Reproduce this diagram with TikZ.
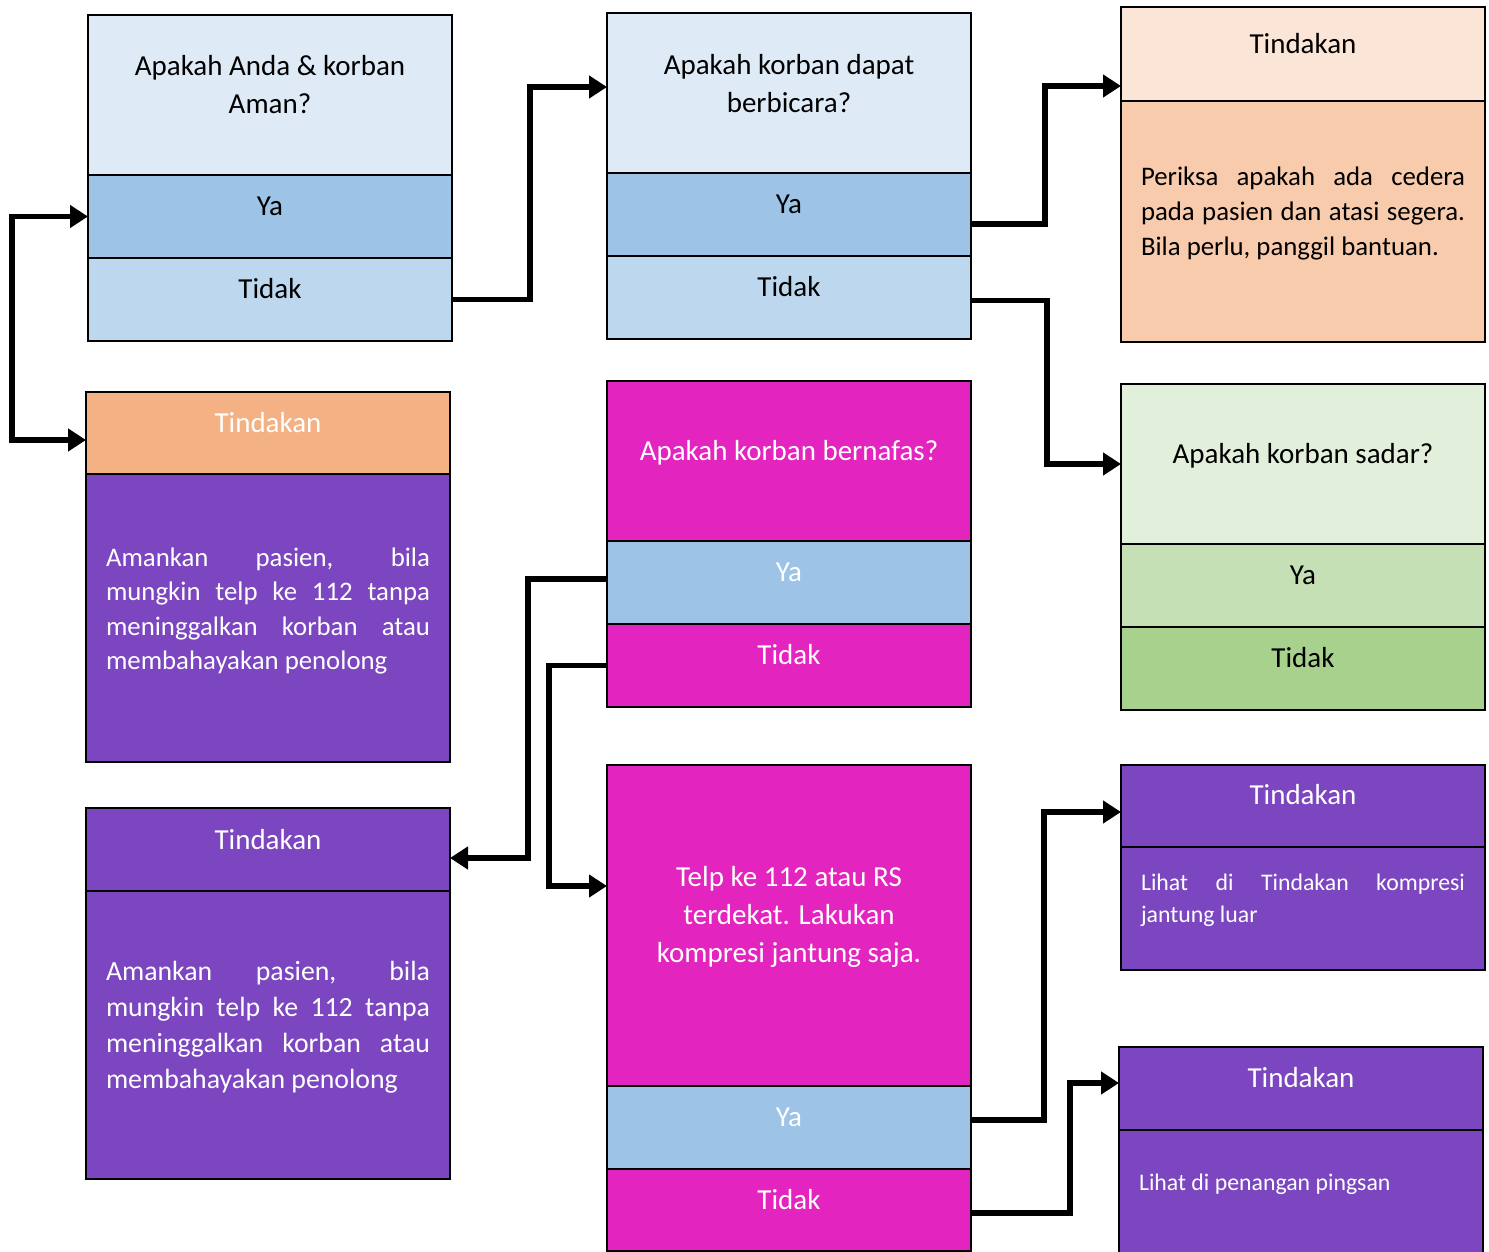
\documentclass[tikz,border=0pt]{standalone}
\usepackage{fontspec}
\setmainfont{Carlito}
\usetikzlibrary{calc}
\usetikzlibrary{positioning}
\usetikzlibrary{arrows.meta}

\definecolor{blueHead}{HTML}{DEEBF7}
\definecolor{blueYa}{HTML}{9DC3E6}
\definecolor{blueNo}{HTML}{BDD7EE}
\definecolor{peachHead}{HTML}{FBE5D6}
\definecolor{peachBody}{HTML}{F8CBAD}
\definecolor{orangeHead}{HTML}{F4B183}
\definecolor{greenHead}{HTML}{E2EFDA}
\definecolor{greenYa}{HTML}{C5E0B4}
\definecolor{greenNo}{HTML}{A9D18E}
\definecolor{boxPurple}{HTML}{7B46BF}
\definecolor{boxMagenta}{HTML}{E424BE}

\tikzset{
  cell/.style={draw, line width=1.4pt, minimum width=182pt, inner sep=0pt, outer sep=0pt, anchor=north west},
  lbl/.style={font=\fontsize{14.5}{19}\selectfont, inner sep=0pt, align=center},
  body/.style={inner sep=0pt, text width=162pt, align=justify},
  conn/.style={line width=2.9pt, -{Triangle[length=9pt, width=11pt]}},
}

\begin{document}
\begin{tikzpicture}[x=0.5pt, y=-0.5pt]
  \useasboundingbox (0,0) rectangle (1489,1252);

  % Apakah Anda & korban aman?
  \node [cell, fill=blueHead, minimum height=80pt] at (88,15) (aHead) {};
  \node [cell, fill=blueYa, minimum height=41.5pt, below=0pt of aHead] (aYa) {};
  \node [cell, fill=blueNo, minimum height=41.5pt, below=0pt of aYa] (aNo) {};
  \node [lbl] at ([yshift=-35pt]aHead.north) (aHeadT) {Apakah Anda \& korban\\Aman?};
  \node [lbl] at ([yshift=-15.5pt]aYa.north) (aYaT) {Ya};
  \node [lbl] at ([yshift=-15.5pt]aNo.north) (aNoT) {Tidak};

  % Apakah korban dapat berbicara?
  \node [cell, fill=blueHead, minimum height=80pt] at (607,13) (bHead) {};
  \node [cell, fill=blueYa, minimum height=41.5pt, below=0pt of bHead] (bYa) {};
  \node [cell, fill=blueNo, minimum height=41.5pt, below=0pt of bYa] (bNo) {};
  \node [lbl] at ([yshift=-35.5pt]bHead.north) (bHeadT) {Apakah korban dapat\\berbicara?};
  \node [lbl] at ([yshift=-15.5pt]bYa.north) (bYaT) {Ya};
  \node [lbl] at ([yshift=-15.5pt]bNo.north) (bNoT) {Tidak};

  % Tindakan: periksa cedera
  \node [cell, fill=peachHead, minimum height=47pt] at (1121,7) (cHead) {};
  \node [cell, fill=peachBody, minimum height=120.5pt, below=0pt of cHead] (cBody) {};
  \node [lbl] at ([yshift=-18.5pt]cHead.north) (cHeadT) {Tindakan};
  \node [body, font=\fontsize{13.4}{17.5}\selectfont] at ([yshift=-56pt]cBody.north) (cBodyT)
    {Periksa apakah ada cedera\linebreak pada pasien dan atasi segera.\linebreak Bila perlu, panggil bantuan.};

  % Tindakan: amankan pasien (atas)
  \node [cell, fill=orangeHead, minimum height=41pt] at (86,392) (dHead) {};
  \node [cell, fill=boxPurple, minimum height=144pt, below=0pt of dHead] (dBody) {};
  \node [lbl, text=white] at ([yshift=-15.5pt]dHead.north) (dHeadT) {Tindakan};
  \node [body, text=white, font=\fontsize{13.4}{17.3}\selectfont] at ([yshift=-68.5pt]dBody.north) (dBodyT)
    {Amankan pasien, bila\linebreak mungkin telp ke 112 tanpa\linebreak meninggalkan korban atau\linebreak membahayakan penolong};

  % Apakah korban bernafas?
  \node [cell, fill=boxMagenta, minimum height=80pt] at (607,381) (eHead) {};
  \node [cell, fill=blueYa, minimum height=41.5pt, below=0pt of eHead] (eYa) {};
  \node [cell, fill=boxMagenta, minimum height=41.5pt, below=0pt of eYa] (eNo) {};
  \node [lbl, text=white] at ([yshift=-36pt]eHead.north) (eHeadT) {Apakah korban bernafas?};
  \node [lbl, text=white] at ([yshift=-15.5pt]eYa.north) (eYaT) {Ya};
  \node [lbl, text=white] at ([yshift=-15.5pt]eNo.north) (eNoT) {Tidak};

  % Apakah korban sadar?
  \node [cell, fill=greenHead, minimum height=80pt] at (1121,384) (fHead) {};
  \node [cell, fill=greenYa, minimum height=41.5pt, below=0pt of fHead] (fYa) {};
  \node [cell, fill=greenNo, minimum height=41.5pt, below=0pt of fYa] (fNo) {};
  \node [lbl] at ([yshift=-36pt]fHead.north) (fHeadT) {Apakah korban sadar?};
  \node [lbl] at ([yshift=-15.5pt]fYa.north) (fYaT) {Ya};
  \node [lbl] at ([yshift=-15.5pt]fNo.north) (fNoT) {Tidak};

  % Tindakan: amankan pasien (bawah)
  \node [cell, fill=boxPurple, minimum height=41.5pt] at (86,808) (gHead) {};
  \node [cell, fill=boxPurple, minimum height=144pt, below=0pt of gHead] (gBody) {};
  \node [lbl, text=white] at ([yshift=-16pt]gHead.north) (gHeadT) {Tindakan};
  \node [body, text=white, font=\fontsize{13.9}{18}\selectfont] at ([yshift=-68pt]gBody.north) (gBodyT)
    {Amankan pasien, bila\linebreak mungkin telp ke 112 tanpa\linebreak meninggalkan korban atau\linebreak membahayakan penolong};

  % Telp ke 112
  \node [cell, fill=boxMagenta, minimum height=160.5pt] at (607,765) (hHead) {};
  \node [cell, fill=blueYa, minimum height=41.5pt, below=0pt of hHead] (hYa) {};
  \node [cell, fill=boxMagenta, minimum height=41pt, below=0pt of hYa] (hNo) {};
  \node [lbl, text=white] at ([yshift=-76pt]hHead.north) (hHeadT) {Telp ke 112 atau RS\\terdekat. Lakukan\\kompresi jantung saja.};
  \node [lbl, text=white] at ([yshift=-15.5pt]hYa.north) (hYaT) {Ya};
  \node [lbl, text=white] at ([yshift=-15.5pt]hNo.north) (hNoT) {Tidak};

  % Tindakan: kompresi jantung luar
  \node [cell, fill=boxPurple, minimum height=41pt] at (1121,765) (iHead) {};
  \node [cell, fill=boxPurple, minimum height=61.5pt, below=0pt of iHead] (iBody) {};
  \node [lbl, text=white] at ([yshift=-15pt]iHead.north) (iHeadT) {Tindakan};
  \node [body, text=white, font=\fontsize{11.9}{16}\selectfont] at ([yshift=-26.5pt]iBody.north) (iBodyT)
    {Lihat di Tindakan kompresi\linebreak jantung luar};

  % Tindakan: pingsan
  \node [cell, fill=boxPurple, minimum height=41.5pt] at (1119,1047) (jHead) {};
  \node [cell, fill=boxPurple, minimum height=70pt, below=0pt of jHead] (jBody) {};
  \node [lbl, text=white] at ([yshift=-15.5pt]jHead.north) (jHeadT) {Tindakan};
  \node [body, text=white, font=\fontsize{11.9}{16}\selectfont] at ([yshift=-27pt]jBody.north) (jBodyT)
    {Lihat di penangan pingsan};

  % connectors
  \draw [conn, {Triangle[length=9pt, width=11pt]}-{Triangle[length=9pt, width=11pt]}]
    (aYa.west) -- ++(-76,0) |- ([yshift=-3.5pt]dHead.west);
  \draw [conn] (aNo.east) -- ++(78,0) |- ([yshift=3pt]bHead.west);
  \draw [conn] ([yshift=-4.75pt]bYa.east) -- ++(74,0) |- ([yshift=-16pt]cHead.west);
  \draw [conn] ([yshift=-1.5pt]bNo.east) -- ++(76,0) |- (fHead.west);
  \draw [conn] ([yshift=1.75pt]eYa.west) -- ++(-79,0) |- ([yshift=-4.25pt]gHead.east);
  \draw [conn] (eNo.west) -- ++(-58,0) |- ([yshift=19.75pt]hHead.west);
  \draw [conn] ([yshift=3.75pt]hYa.east) -- ++(73,0) |- ([yshift=-3pt]iHead.west);
  \draw [conn] ([yshift=-1.5pt]hNo.east) -- ++(99,0) |- ([yshift=2.75pt]jHead.west);

\end{tikzpicture}
\end{document}
